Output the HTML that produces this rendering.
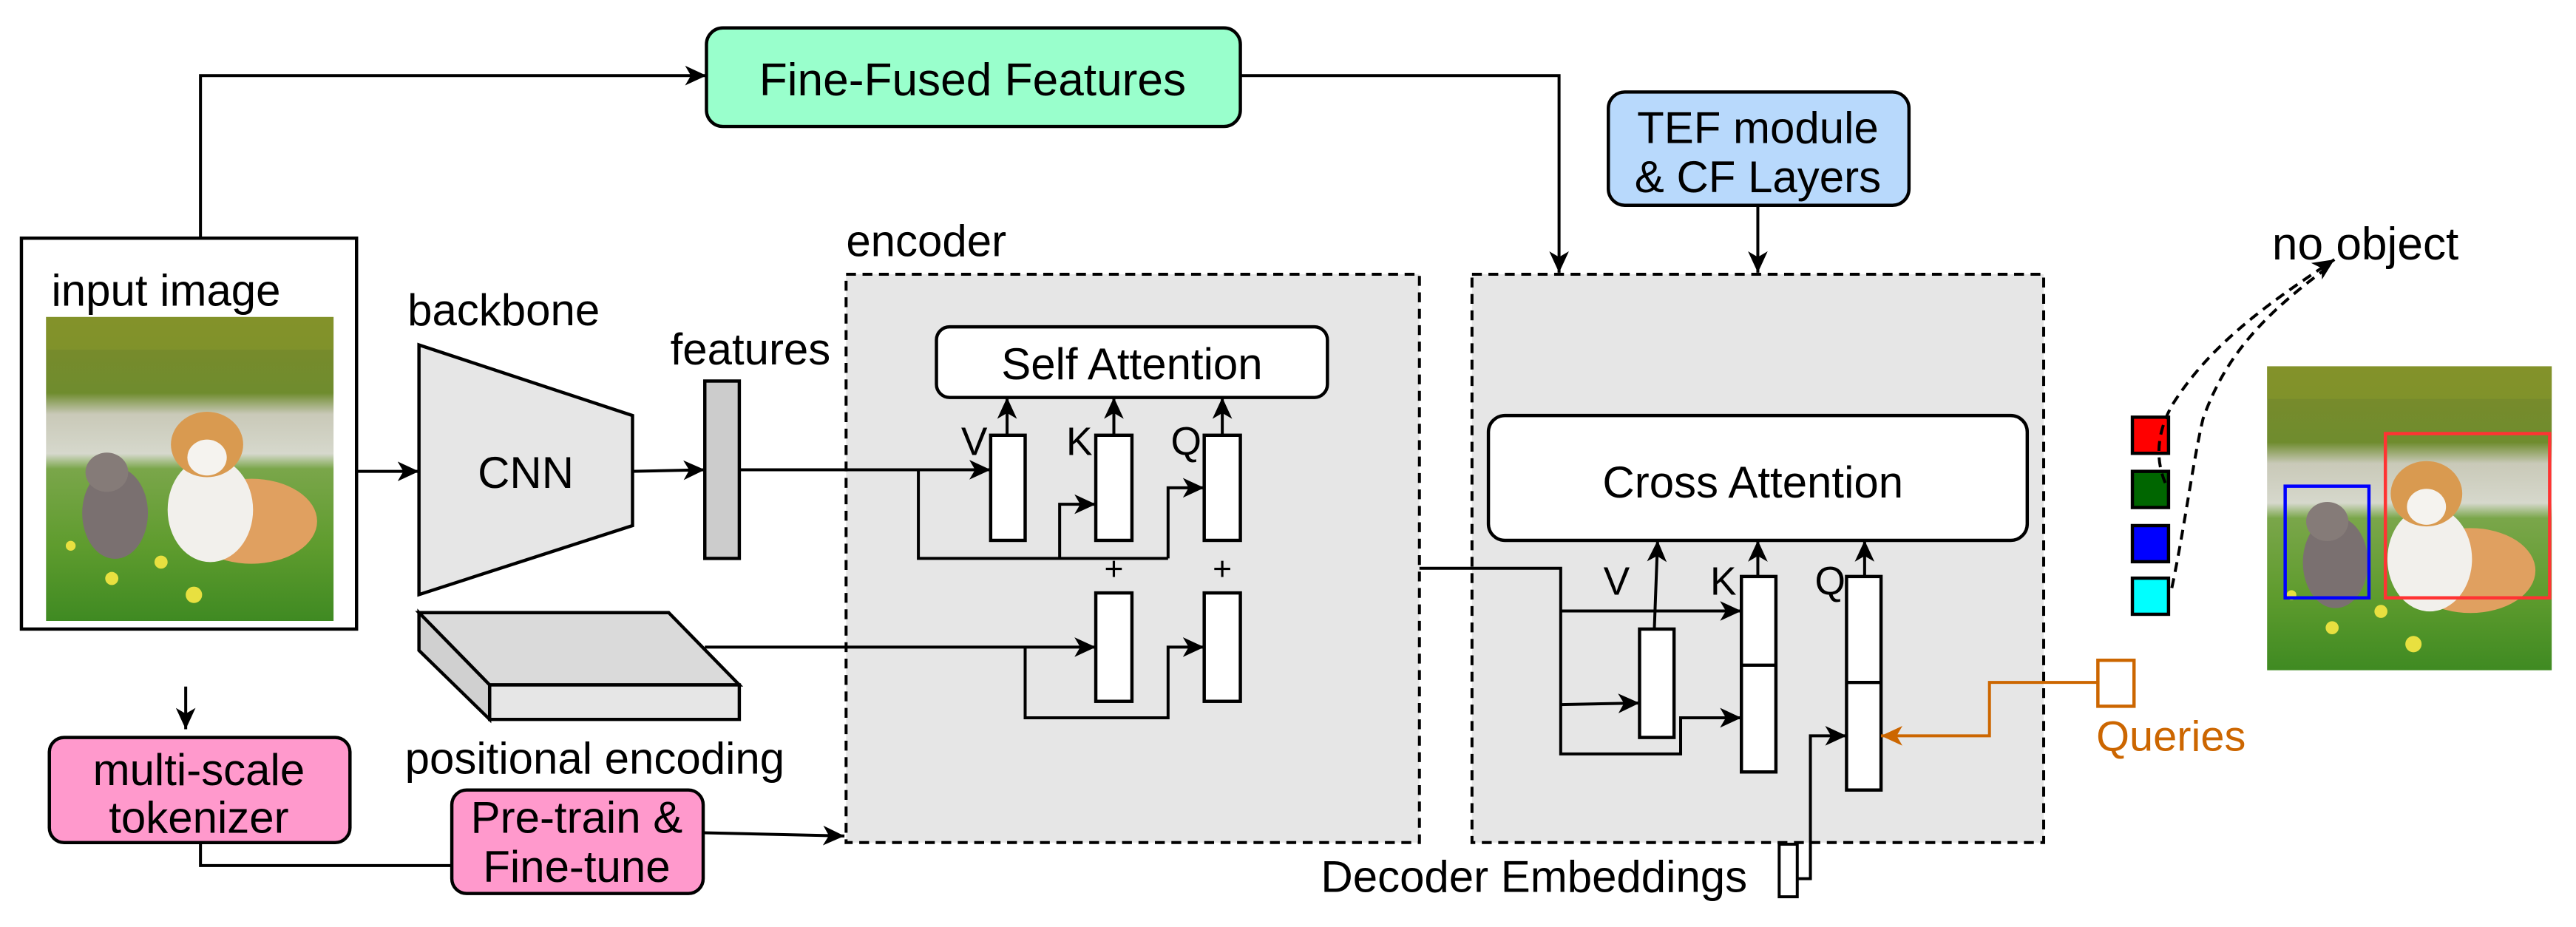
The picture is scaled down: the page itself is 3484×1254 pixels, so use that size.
<!DOCTYPE html>
<html><head><meta charset="utf-8"><style>
html,body{margin:0;padding:0;background:#fff;}
svg{display:block;}
text{font-family:"Liberation Sans",Arial,sans-serif;}
</style></head><body>
<svg width="3484" height="1254" viewBox="0 0 1568 564.4" xmlns="http://www.w3.org/2000/svg">
<defs>
<marker id="a" markerUnits="userSpaceOnUse" markerWidth="14" markerHeight="12" refX="13" refY="6" orient="auto">
<path d="M0,0 L13,6 L0,12 L3.5,6 z" fill="#000"/></marker>
<marker id="ao" markerUnits="userSpaceOnUse" markerWidth="14" markerHeight="12" refX="13" refY="6" orient="auto">
<path d="M0,0 L13,6 L0,12 L3.5,6 z" fill="#cc6600"/></marker>
<linearGradient id="sky" x1="0" y1="0" x2="0" y2="1">
<stop offset="0" stop-color="#7d8a2a"/><stop offset="0.25" stop-color="#6f8c2e"/>
<stop offset="0.32" stop-color="#c9c9b8"/><stop offset="0.45" stop-color="#d6d8cc"/>
<stop offset="0.5" stop-color="#7aa64a"/><stop offset="0.75" stop-color="#5f9c2e"/><stop offset="1" stop-color="#3f8a22"/></linearGradient>
<g id="photo">
<rect x="0" y="0" width="175" height="186" fill="url(#sky)"/>
<rect x="0" y="0" width="175" height="20" fill="#8a9a2a" opacity="0.5"/>
<ellipse cx="42" cy="120" rx="20" ry="28" fill="#7a7070"/>
<ellipse cx="37" cy="95" rx="13" ry="12" fill="#857b78"/>
<ellipse cx="125" cy="125" rx="40" ry="26" fill="#e0a060"/>
<ellipse cx="100" cy="118" rx="26" ry="32" fill="#f2f0ec"/>
<ellipse cx="98" cy="78" rx="22" ry="20" fill="#d99a50"/>
<ellipse cx="98" cy="86" rx="12" ry="11" fill="#f5f3ef"/>
<circle cx="40" cy="160" r="4" fill="#e8e040"/><circle cx="70" cy="150" r="4" fill="#e8e040"/><circle cx="90" cy="170" r="5" fill="#e8e040"/><circle cx="15" cy="140" r="3" fill="#e8e040"/>
</g>
</defs>

<!-- input image -->
<rect x="13" y="145" width="204" height="238" fill="#fff" stroke="#000" stroke-width="2"/>
<text x="101" y="186" font-size="27" text-anchor="middle">input image</text>
<use href="#photo" transform="translate(28,193) scale(1,0.995)"/>

<!-- top path to Fine-Fused -->
<polyline points="122,145 122,46 430,46" fill="none" stroke="#000" stroke-width="1.8" marker-end="url(#a)"/>
<rect x="430" y="17" width="325" height="60" rx="10" fill="#99ffcc" stroke="#000" stroke-width="2"/>
<text x="592" y="58" font-size="28" text-anchor="middle">Fine-Fused Features</text>
<polyline points="755,46 949,46 949,166" fill="none" stroke="#000" stroke-width="1.8" marker-end="url(#a)"/>

<!-- TEF -->
<rect x="979" y="56" width="183" height="69" rx="10" fill="#b8d9fc" stroke="#000" stroke-width="2"/>
<text x="1070" y="87" font-size="27" text-anchor="middle">TEF module</text>
<text x="1070" y="117" font-size="27" text-anchor="middle">&amp; CF Layers</text>
<line x1="1070" y1="125" x2="1070" y2="166" stroke="#000" stroke-width="1.8" marker-end="url(#a)"/>

<!-- backbone -->
<text x="248" y="198" font-size="27">backbone</text>
<polygon points="255,210 385,253 385,320 255,362" fill="#e6e6e6" stroke="#000" stroke-width="2"/>
<text x="320" y="297" font-size="27" text-anchor="middle">CNN</text>
<line x1="217" y1="287" x2="255" y2="287" stroke="#000" stroke-width="1.8" marker-end="url(#a)"/>
<text x="408" y="222" font-size="27">features</text>
<rect x="429" y="232" width="21" height="108" fill="#cccccc" stroke="#000" stroke-width="2"/>
<line x1="385" y1="287" x2="429" y2="286" stroke="#000" stroke-width="1.8" marker-end="url(#a)"/>

<!-- positional encoding slab -->
<polygon points="255,373 407,373 450,417 298,417" fill="#dadada" stroke="#000" stroke-width="2"/>
<polygon points="298,417 450,417 450,438 298,438" fill="#e6e6e6" stroke="#000" stroke-width="2"/>
<polygon points="255,373 298,417 298,438 255,396" fill="#d0d0d0" stroke="#000" stroke-width="2"/>
<text x="362" y="471" font-size="27" text-anchor="middle">positional encoding</text>

<!-- encoder -->
<text x="515" y="156" font-size="27">encoder</text>
<rect x="515" y="167" width="349" height="346" fill="#e6e6e6" stroke="#000" stroke-width="1.8" stroke-dasharray="6,4"/>
<rect x="570" y="199" width="238" height="43" rx="8" fill="#fff" stroke="#000" stroke-width="2"/>
<text x="689" y="231" font-size="27" text-anchor="middle">Self Attention</text>
<rect x="603" y="265" width="21" height="64" fill="#fff" stroke="#000" stroke-width="2"/>
<rect x="667" y="265" width="22" height="64" fill="#fff" stroke="#000" stroke-width="2"/>
<rect x="733" y="265" width="22" height="64" fill="#fff" stroke="#000" stroke-width="2"/>
<rect x="667" y="361" width="22" height="66" fill="#fff" stroke="#000" stroke-width="2"/>
<rect x="733" y="361" width="22" height="66" fill="#fff" stroke="#000" stroke-width="2"/>
<text x="593" y="277" font-size="24" text-anchor="middle">V</text>
<text x="657" y="277" font-size="24" text-anchor="middle">K</text>
<text x="722" y="277" font-size="24" text-anchor="middle">Q</text>
<text x="678" y="353" font-size="20" text-anchor="middle">+</text>
<text x="744" y="353" font-size="20" text-anchor="middle">+</text>
<line x1="613" y1="265" x2="613" y2="242" stroke="#000" stroke-width="1.8" marker-end="url(#a)"/>
<line x1="678" y1="265" x2="678" y2="242" stroke="#000" stroke-width="1.8" marker-end="url(#a)"/>
<line x1="744" y1="265" x2="744" y2="242" stroke="#000" stroke-width="1.8" marker-end="url(#a)"/>
<line x1="450" y1="286" x2="603" y2="286" stroke="#000" stroke-width="1.8" marker-end="url(#a)"/>
<polyline points="559,286 559,340 711,340" fill="none" stroke="#000" stroke-width="1.8"/>
<polyline points="645,340 645,307 667,307" fill="none" stroke="#000" stroke-width="1.8" marker-end="url(#a)"/>
<polyline points="711,340 711,297 733,297" fill="none" stroke="#000" stroke-width="1.8" marker-end="url(#a)"/>
<line x1="429" y1="394" x2="667" y2="394" stroke="#000" stroke-width="1.8" marker-end="url(#a)"/>
<polyline points="624,394 624,437 711,437 711,394 733,394" fill="none" stroke="#000" stroke-width="1.8" marker-end="url(#a)"/>

<!-- tokenizer / pretrain -->
<line x1="113" y1="418" x2="113" y2="444" stroke="#000" stroke-width="1.8" marker-end="url(#a)"/>
<rect x="30" y="449" width="183" height="64" rx="9" fill="#ff99cc" stroke="#000" stroke-width="2"/>
<text x="121" y="478" font-size="27" text-anchor="middle">multi-scale</text>
<text x="121" y="507" font-size="27" text-anchor="middle">tokenizer</text>
<polyline points="122,513 122,527 275,527" fill="none" stroke="#000" stroke-width="1.8"/>
<rect x="275" y="481" width="153" height="63" rx="9" fill="#ff99cc" stroke="#000" stroke-width="2"/>
<text x="351" y="507" font-size="27" text-anchor="middle">Pre-train &amp;</text>
<text x="351" y="537" font-size="27" text-anchor="middle">Fine-tune</text>
<line x1="428" y1="507" x2="514" y2="509" stroke="#000" stroke-width="1.8" marker-end="url(#a)"/>

<!-- decoder -->
<rect x="896" y="167" width="348" height="346" fill="#e6e6e6" stroke="#000" stroke-width="1.8" stroke-dasharray="6,4"/>
<rect x="906" y="253" width="328" height="76" rx="10" fill="#fff" stroke="#000" stroke-width="2"/>
<text x="1067" y="303" font-size="27" text-anchor="middle">Cross Attention</text>
<rect x="998" y="383" width="21" height="66" fill="#fff" stroke="#000" stroke-width="2"/>
<rect x="1060" y="351" width="21" height="119" fill="#fff" stroke="#000" stroke-width="2"/>
<line x1="1060" y1="405" x2="1081" y2="405" stroke="#000" stroke-width="2"/>
<rect x="1124" y="351" width="21" height="130" fill="#fff" stroke="#000" stroke-width="2"/>
<line x1="1124" y1="415.5" x2="1145" y2="415.5" stroke="#000" stroke-width="2"/>
<text x="984" y="362" font-size="24" text-anchor="middle">V</text>
<text x="1049" y="362" font-size="24" text-anchor="middle">K</text>
<text x="1114" y="362" font-size="24" text-anchor="middle">Q</text>
<line x1="1007" y1="383" x2="1009" y2="329" stroke="#000" stroke-width="1.8" marker-end="url(#a)"/>
<line x1="1070" y1="351" x2="1070" y2="329" stroke="#000" stroke-width="1.8" marker-end="url(#a)"/>
<line x1="1135" y1="351" x2="1135" y2="329" stroke="#000" stroke-width="1.8" marker-end="url(#a)"/>
<polyline points="864,346 950,346 950,459 1023,459 1023,437 1060,437" fill="none" stroke="#000" stroke-width="1.8" marker-end="url(#a)"/>
<line x1="950" y1="372" x2="1060" y2="372" stroke="#000" stroke-width="1.8" marker-end="url(#a)"/>
<line x1="950" y1="429" x2="998" y2="428" stroke="#000" stroke-width="1.8" marker-end="url(#a)"/>

<!-- queries -->
<polyline points="1277,415.5 1211,415.5 1211,448 1145,448" fill="none" stroke="#cc6600" stroke-width="1.8" marker-end="url(#ao)"/>
<rect x="1277" y="402" width="22" height="28" fill="#fff" stroke="#cc6600" stroke-width="2"/>
<text x="1276" y="457" font-size="26" fill="#cc6600">Queries</text>

<!-- decoder embeddings -->
<polyline points="1094,535 1102,535 1102,448 1124,448" fill="none" stroke="#000" stroke-width="1.8" marker-end="url(#a)"/>
<rect x="1083" y="514" width="11" height="32" fill="#fff" stroke="#000" stroke-width="1.8"/>
<text x="804" y="543" font-size="27">Decoder Embeddings</text>

<!-- outputs -->
<rect x="1298" y="254" width="22" height="22" fill="#ff0000" stroke="#000" stroke-width="2"/>
<rect x="1298" y="287" width="22" height="22" fill="#006600" stroke="#000" stroke-width="2"/>
<rect x="1298" y="320" width="22" height="22" fill="#0000ff" stroke="#000" stroke-width="2"/>
<rect x="1298" y="352" width="22" height="22" fill="#00ffff" stroke="#000" stroke-width="2"/>
<path d="M1318,294 C1310,275 1316,258 1322,247 C1345,210 1380,185 1421,158" fill="none" stroke="#000" stroke-width="1.8" stroke-dasharray="6,4" marker-end="url(#a)"/>
<path d="M1322,358 C1330,320 1335,280 1341,255 C1355,215 1380,190 1418,162" fill="none" stroke="#000" stroke-width="1.8" stroke-dasharray="6,4"/>
<text x="1383" y="158" font-size="28">no object</text>

<use href="#photo" transform="translate(1380,223) scale(0.99,0.995)"/>
<rect x="1391" y="296" width="51" height="68" fill="none" stroke="#0000ff" stroke-width="2"/>
<rect x="1452" y="264" width="100" height="100" fill="none" stroke="#ff3333" stroke-width="2"/>
</svg>
</body></html>
